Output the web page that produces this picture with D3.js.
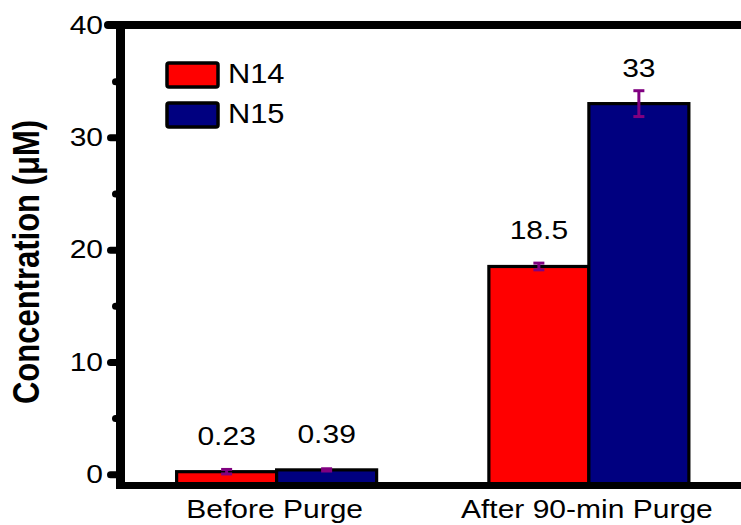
<!DOCTYPE html>
<html>
<head>
<meta charset="utf-8">
<script src="https://cdn.jsdelivr.net/npm/d3@7"></script>
<style>
  html, body { margin: 0; padding: 0; background: #fff; }
  svg { display: block; }
  text { font-family: "Liberation Sans", Arial, sans-serif; fill: #000; }
</style>
</head>
<body>
<svg id="chart" width="741" height="525"></svg>
<script>
// ---- data ----
const categories = ["Before Purge", "After 90-min Purge"];
const seriesNames = ["N14", "N15"];
const n14Values = [0.23, 18.5];
const n15Values = [0.39, 33];
const n14Errors = [0.2, 0.3];
const n15Errors = [0.1, 1.15];
const valueLabels = [["0.23", "18.5"], ["0.39", "33"]];
const majorTicks = [0, 10, 20, 30, 40];
const minorTicks = [5, 15, 25, 35];
const yTitle = "Concentration (\u03BCM)";

const colors = ["#ff0000", "#000080"];
const errColor = "#800080";

const svg = d3.select("#chart");
const xStretch = 1.2;

const y = d3.scaleLinear().domain([-1, 40]).range([485.5, 25]);
const x = d3.scalePoint().domain(categories).range([120.5, 745]).padding(0.5);
const xs = d3.scaleBand().domain(seriesNames).range([-100, 100]);

const series = seriesNames.map((name, si) => ({
  name,
  color: colors[si],
  values: (si === 0 ? n14Values : n15Values),
  errors: (si === 0 ? n14Errors : n15Errors),
  labels: valueLabels[si]
}));

const bars = [];
series.forEach(s => categories.forEach((c, ci) => bars.push({
  cat: c, name: s.name, color: s.color, v: s.values[ci], e: s.errors[ci], label: s.labels[ci]
})));

// bars
svg.append("g").selectAll("rect").data(bars).join("rect")
  .attr("x", d => x(d.cat) + xs(d.name))
  .attr("width", xs.bandwidth())
  .attr("y", d => y(d.v))
  .attr("height", d => y(-1) - y(d.v))
  .attr("fill", d => d.color)
  .attr("stroke", "#000")
  .attr("stroke-width", 3.2);

// error bars
const eg = svg.append("g").attr("stroke", errColor).attr("stroke-width", 3).attr("fill", "none");
bars.forEach(d => {
  const cx = x(d.cat) + xs(d.name) + xs.bandwidth() / 2;
  eg.append("line").attr("x1", cx).attr("x2", cx).attr("y1", y(d.v - d.e)).attr("y2", y(d.v + d.e));
  eg.append("line").attr("x1", cx - 5.5).attr("x2", cx + 5.5).attr("y1", y(d.v - d.e)).attr("y2", y(d.v - d.e));
  eg.append("line").attr("x1", cx - 5.5).attr("x2", cx + 5.5).attr("y1", y(d.v + d.e)).attr("y2", y(d.v + d.e));
});

// value labels
svg.append("g").selectAll("g").data(bars).join("g")
  .attr("transform", d => `translate(${x(d.cat) + xs(d.name) + xs.bandwidth() / 2},${y(d.v) - 27}) scale(${xStretch},1)`)
  .append("text")
  .attr("text-anchor", "middle")
  .attr("font-size", 25)
  .text(d => d.label);

// frame / axes
svg.append("line").attr("x1", 108).attr("x2", 745).attr("y1", y(40)).attr("y2", y(40))
  .attr("stroke", "#000").attr("stroke-width", 8).attr("stroke-linecap", "round");
svg.append("line").attr("x1", 116).attr("x2", 745).attr("y1", y(-1)).attr("y2", y(-1))
  .attr("stroke", "#000").attr("stroke-width", 7);

const axisG = svg.append("g").attr("transform", "translate(120.5,0)");
const yAxis = d3.axisLeft(y).tickValues(majorTicks).tickSize(10).tickPadding(0).tickFormat(d3.format("d"));
axisG.call(yAxis);
axisG.select(".domain").remove();
axisG.selectAll(".tick line").attr("stroke", "#000").attr("stroke-width", 7).attr("stroke-linecap", "round");
axisG.selectAll(".tick text").remove();

const minorG = svg.append("g").attr("transform", "translate(120.5,0)");
minorG.call(d3.axisLeft(y).tickValues(minorTicks).tickSize(5).tickFormat(""));
minorG.select(".domain").remove();
minorG.selectAll(".tick line").attr("stroke", "#000").attr("stroke-width", 7).attr("stroke-linecap", "round");

svg.append("line").attr("x1", 120.5).attr("x2", 120.5).attr("y1", 21).attr("y2", 489)
  .attr("stroke", "#000").attr("stroke-width", 9);

// y tick labels
svg.append("g").selectAll("g").data(majorTicks).join("g")
  .attr("transform", d => `translate(103,${y(d)}) scale(${xStretch},1)`)
  .append("text")
  .attr("text-anchor", "end")
  .attr("dy", "0.35em")
  .attr("font-size", 25)
  .text(d => d);

// x category labels
svg.append("g").selectAll("g").data(categories).join("g")
  .attr("transform", d => `translate(${x(d) - 2},518) scale(${xStretch},1)`)
  .append("text")
  .attr("text-anchor", "middle")
  .attr("font-size", 25)
  .text(d => d);

// y title
svg.append("g")
  .attr("transform", `translate(39,262) scale(${xStretch},1) rotate(-90)`)
  .append("text")
  .attr("text-anchor", "middle")
  .attr("font-size", 31)
  .attr("font-weight", "bold")
  .text(yTitle);

// legend
const lg = svg.append("g").selectAll("g").data(series).join("g")
  .attr("transform", (d, i) => `translate(167,${63 + i * 40})`);
lg.append("rect").attr("width", 51).attr("height", 24).attr("rx", 2)
  .attr("fill", d => d.color).attr("stroke", "#000").attr("stroke-width", 3.5);
lg.append("g").attr("transform", `translate(61,20) scale(1.1,1)`)
  .append("text").attr("font-size", 28).text(d => d.name);
</script>
</body>
</html>
